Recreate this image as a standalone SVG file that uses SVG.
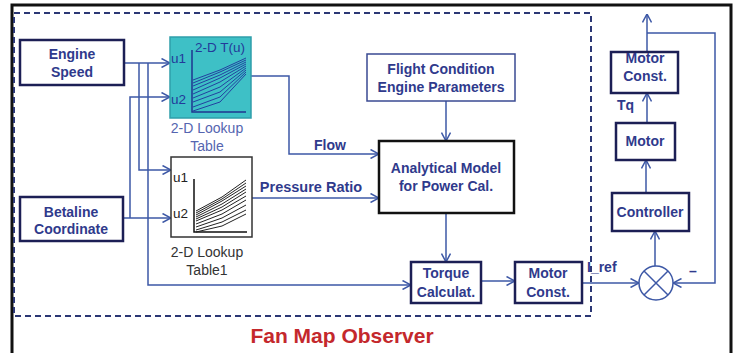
<svg xmlns="http://www.w3.org/2000/svg" width="735" height="353" viewBox="0 0 735 353">
<defs>
<style>
.box{fill:#fff;stroke:#1c1f55;stroke-width:2.5}
.thin{fill:#fff;stroke:#3a4a92;stroke-width:1.5}
.t{font-family:"Liberation Sans",Arial,sans-serif;font-weight:bold;font-size:14px;fill:#2f3a8c;text-anchor:middle}
.w{fill:none;stroke:#3d58a6;stroke-width:1.5}
.lbl{font-family:"Liberation Sans",Arial,sans-serif;font-size:14px;text-anchor:middle}
.ax{fill:none;stroke-width:1.5}
</style>
<marker id="ar" viewBox="0 0 10 10" refX="9.5" refY="5" markerWidth="10" markerHeight="10" markerUnits="userSpaceOnUse" orient="auto">
<path d="M1,0.5 L9.5,5 L1,9.5" fill="none" stroke="#3d58a6" stroke-width="1.5"/>
</marker>
</defs>
<rect width="735" height="353" fill="#fff"/>
<path d="M12,353 V5 H731 V353" fill="none" stroke="#111" stroke-width="3"/>
<rect x="14" y="13" width="577" height="303" fill="none" stroke="#2b3775" stroke-width="2" stroke-dasharray="6,4"/>
<text x="342" y="343" font-family="'Liberation Sans',Arial,sans-serif" font-weight="bold" font-size="21" fill="#c4282c" text-anchor="middle">Fan Map Observer</text>

<g id="connectors">
<path class="w" d="M124,63 H170" marker-end="url(#ar)"/>
<path class="w" d="M139,63 V170 H171" marker-end="url(#ar)"/>
<path class="w" d="M148,63 V285 H411" marker-end="url(#ar)"/>
<path class="w" d="M123,218 H171" marker-end="url(#ar)"/>
<path class="w" d="M130,218 V97 H170" marker-end="url(#ar)"/>
<path class="w" d="M251,76 H289 V154 H379" marker-end="url(#ar)"/>
<path class="w" d="M252,198 H379" marker-end="url(#ar)"/>
<path class="w" d="M446,101 V141" marker-end="url(#ar)"/>
<path class="w" d="M446,213 V262" marker-end="url(#ar)"/>
<path class="w" d="M481,281 H515" marker-end="url(#ar)"/>
<path class="w" d="M582,283 H639" marker-end="url(#ar)"/>
<path class="w" d="M647,33 H715 V283 H673" marker-end="url(#ar)"/>
<path class="w" d="M655,266 V231" marker-end="url(#ar)"/>
<path class="w" d="M646,193 V160" marker-end="url(#ar)"/>
<path class="w" d="M647,123 V93" marker-end="url(#ar)"/>
<path class="w" d="M647,52 V14" marker-end="url(#ar)"/>
<text x="330" y="150" class="t">Flow</text>
<text x="311" y="192" class="t" style="font-size:14.5px">Pressure Ratio</text>
<text x="587" y="272" class="t" style="text-anchor:start">I_ref</text>
<text x="693" y="276" class="t">–</text>
<text x="617" y="110" class="t" style="text-anchor:start">Tq</text>
</g>

<g id="engine-speed">
<rect class="box" x="20" y="40" width="104" height="45"/>
<text class="t" x="72" y="59">Engine</text>
<text class="t" x="72" y="77">Speed</text>
</g>

<g id="betaline">
<rect class="box" x="20" y="197" width="103" height="44"/>
<text class="t" x="71" y="217">Betaline</text>
<text class="t" x="71" y="234">Coordinate</text>
</g>

<g id="lookup-table">
<rect x="170" y="37" width="81" height="81" fill="#3ec0c6" stroke="#2f9eaa" stroke-width="1.5"/>
<path class="ax" stroke="#1f3590" d="M192,50 V112 H246"/>
<g fill="none" stroke="#2340a0" stroke-width="1">
<path d="M193,80 L220,70 L246,58"/>
<path d="M193,83 L220,72 L246,60"/>
<path d="M193,86 L220,75 L246,62"/>
<path d="M193,90 L220,78 L246,64"/>
<path d="M193,94 L220,82 L246,66"/>
<path d="M193,98 L220,87 L246,68"/>
<path d="M193,102 L220,92 L246,70"/>
<path d="M193,107 L220,97 L246,72"/>
<path d="M193,111 L220,102 L246,74"/>
</g>
<text x="220" y="52" font-family="'Liberation Sans',Arial,sans-serif" font-size="13.5" fill="#233a9a" text-anchor="middle">2-D T(u)</text>
<text x="171" y="63" font-family="'Liberation Sans',Arial,sans-serif" font-size="13.5" fill="#233a9a">u1</text>
<text x="171" y="104" font-family="'Liberation Sans',Arial,sans-serif" font-size="13.5" fill="#233a9a">u2</text>
<text class="lbl" x="207" y="133" fill="#5565b0">2-D Lookup</text>
<text class="lbl" x="207" y="151" fill="#5565b0">Table</text>
</g>

<g id="lookup-table1">
<rect x="171" y="157" width="81" height="80" fill="#fff" stroke="#333" stroke-width="1.5"/>
<path class="ax" stroke="#111" d="M194,179 V232 H247"/>
<g fill="none" stroke="#222" stroke-width="1">
<path d="M196,211 L222,197 L246,180"/>
<path d="M196,213 L222,199 L246,183"/>
<path d="M196,215 L222,201 L246,186"/>
<path d="M196,217 L222,204 L246,189"/>
<path d="M196,219 L222,207 L246,192"/>
<path d="M196,221 L222,210 L246,196"/>
<path d="M196,224 L222,214 L246,200"/>
<path d="M196,227 L222,218 L246,205"/>
<path d="M196,230 L222,222 L246,210"/>
<path d="M196,232 L222,226 L246,214"/>
</g>
<text x="173" y="182" font-family="'Liberation Sans',Arial,sans-serif" font-size="13.5" fill="#222">u1</text>
<text x="173" y="218" font-family="'Liberation Sans',Arial,sans-serif" font-size="13.5" fill="#222">u2</text>
<text class="lbl" x="207" y="257" fill="#333">2-D Lookup</text>
<text class="lbl" x="207" y="275" fill="#333">Table1</text>
</g>

<g id="flight-condition">
<rect class="thin" x="367" y="54" width="148" height="47"/>
<text class="t" x="441" y="74">Flight Condition</text>
<text class="t" x="441" y="92">Engine Parameters</text>
</g>

<g id="analytical-model">
<rect x="379" y="141" width="135" height="72" fill="#fff" stroke="#111" stroke-width="2.5"/>
<text class="t" x="446" y="173">Analytical Model</text>
<text class="t" x="446" y="191">for Power Cal.</text>
</g>

<g id="torque-calc">
<rect class="box" x="411" y="262" width="70" height="41"/>
<text class="t" x="446" y="278">Torque</text>
<text class="t" x="446" y="297">Calculat.</text>
</g>

<g id="motor-const-1">
<rect class="box" x="515" y="262" width="67" height="41"/>
<text class="t" x="548" y="278">Motor</text>
<text class="t" x="548" y="297">Const.</text>
</g>

<g id="sum">
<circle cx="656" cy="283" r="17" fill="#fff" stroke="#3d58a6" stroke-width="1.5"/>
<path d="M644,271 L668,295 M668,271 L644,295" stroke="#3d58a6" stroke-width="1.5"/>
</g>

<g id="controller">
<rect class="box" x="612" y="193" width="77" height="38"/>
<text class="t" x="650" y="217">Controller</text>
</g>

<g id="motor">
<rect class="box" x="616" y="123" width="59" height="37"/>
<text class="t" x="645" y="146">Motor</text>
</g>

<g id="motor-const-2">
<rect class="box" x="611" y="52" width="67" height="41"/>
<text class="t" x="645" y="63">Motor</text>
<text class="t" x="645" y="81">Const.</text>
</g>
</svg>
